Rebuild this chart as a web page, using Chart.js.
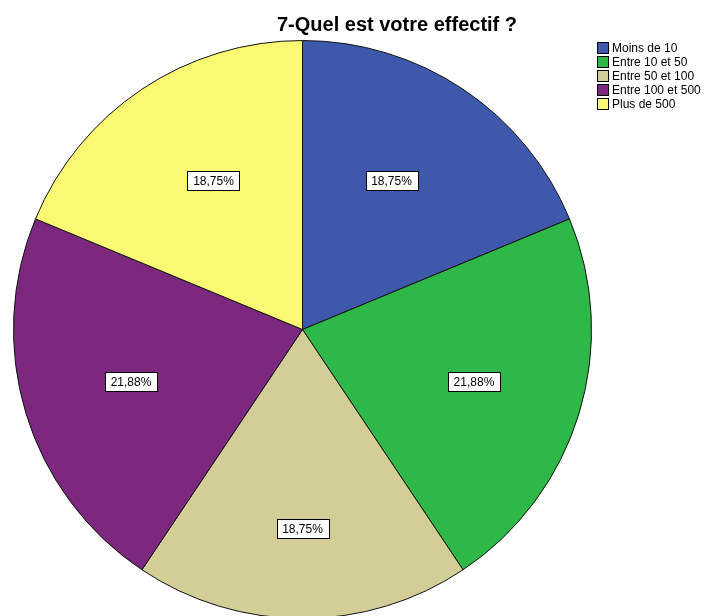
<!DOCTYPE html>
<html>
<head>
<meta charset="utf-8">
<script src="https://cdn.jsdelivr.net/npm/chart.js@4.4.1/dist/chart.umd.min.js"></script>
<style>
html,body{margin:0;padding:0;background:#fff;overflow:hidden;width:712px;height:616px;}
#wrap{position:absolute;left:0;top:0;width:712px;height:660px;}
</style>
</head>
<body>
<div id="wrap"><canvas id="c" width="712" height="660"></canvas></div>
<script>
const title = "7-Quel est votre effectif ?";
const categories = ["Moins de 10", "Entre 10 et 50", "Entre 50 et 100", "Entre 100 et 500", "Plus de 500"];
const counts = [6, 7, 6, 7, 6];
const colors = ["#3E58AC", "#2EB848", "#D3CE97", "#7B287E", "#FBF873"];
const labelRadius = [0.6, 0.62, 0.69, 0.62, 0.6];

const overlay = {
  id: 'overlay',
  afterDatasetsDraw(chart) {
    const ctx = chart.ctx;
    const meta = chart.getDatasetMeta(0);
    const data = chart.data.datasets[0].data;
    const total = data.reduce((a, b) => a + b, 0);
    ctx.save();
    ctx.font = '12px "Liberation Sans", Arial, sans-serif';
    ctx.textAlign = 'center';
    ctx.textBaseline = 'middle';
    meta.data.forEach((arc, i) => {
      const p = arc.getProps(['x', 'y', 'startAngle', 'endAngle', 'outerRadius'], true);
      const mid = (p.startAngle + p.endAngle) / 2 + (i === 0 ? -0.05 : i === 4 ? 0.05 : 0);
      const r = p.outerRadius * labelRadius[i];
      const x = p.x + Math.cos(mid) * r;
      const y = p.y + Math.sin(mid) * r;
      const txt = (data[i] / total * 100).toFixed(2).replace('.', ',') + '%';
      const w = Math.round(ctx.measureText(txt).width + 11);
      const h = 19;
      const bx = Math.round(x - w / 2) + 0.5, by = Math.round(y - h / 2) + 0.5;
      ctx.fillStyle = '#fff';
      ctx.fillRect(bx, by, w, h);
      ctx.strokeStyle = '#000';
      ctx.lineWidth = 1;
      ctx.strokeRect(bx, by, w, h);
      ctx.fillStyle = '#000';
      ctx.fillText(txt, x, y + 1);
    });
    // title
    ctx.font = 'bold 20px "Liberation Sans", Arial, sans-serif';
    ctx.fillStyle = '#000';
    ctx.textAlign = 'center';
    ctx.textBaseline = 'alphabetic';
    ctx.fillText(chart.options.plugins.customTitle.text, 397, 31);
    // legend
    ctx.font = '12px "Liberation Sans", Arial, sans-serif';
    ctx.textAlign = 'left';
    ctx.textBaseline = 'middle';
    chart.data.labels.forEach((lab, i) => {
      const y = 48 + i * 14;
      ctx.fillStyle = chart.data.datasets[0].backgroundColor[i];
      ctx.fillRect(597.5, y - 5.5, 11, 11);
      ctx.strokeStyle = '#000';
      ctx.strokeRect(597.5, y - 5.5, 11, 11);
      ctx.fillStyle = '#000';
      ctx.fillText(lab, 612, y + 0.5);
    });
    ctx.restore();
  }
};

new Chart(document.getElementById('c'), {
  type: 'pie',
  data: {
    labels: categories,
    datasets: [{
      data: counts,
      backgroundColor: colors,
      borderColor: '#111',
      borderWidth: 1
    }]
  },
  options: {
    responsive: false,
    animation: false,
    layout: { padding: { left: 13, right: 120, top: 40, bottom: 41 } },
    plugins: {
      legend: { display: false },
      tooltip: { enabled: false },
      title: { display: false },
      customTitle: { text: title }
    }
  },
  plugins: [overlay]
});
</script>
</body>
</html>
